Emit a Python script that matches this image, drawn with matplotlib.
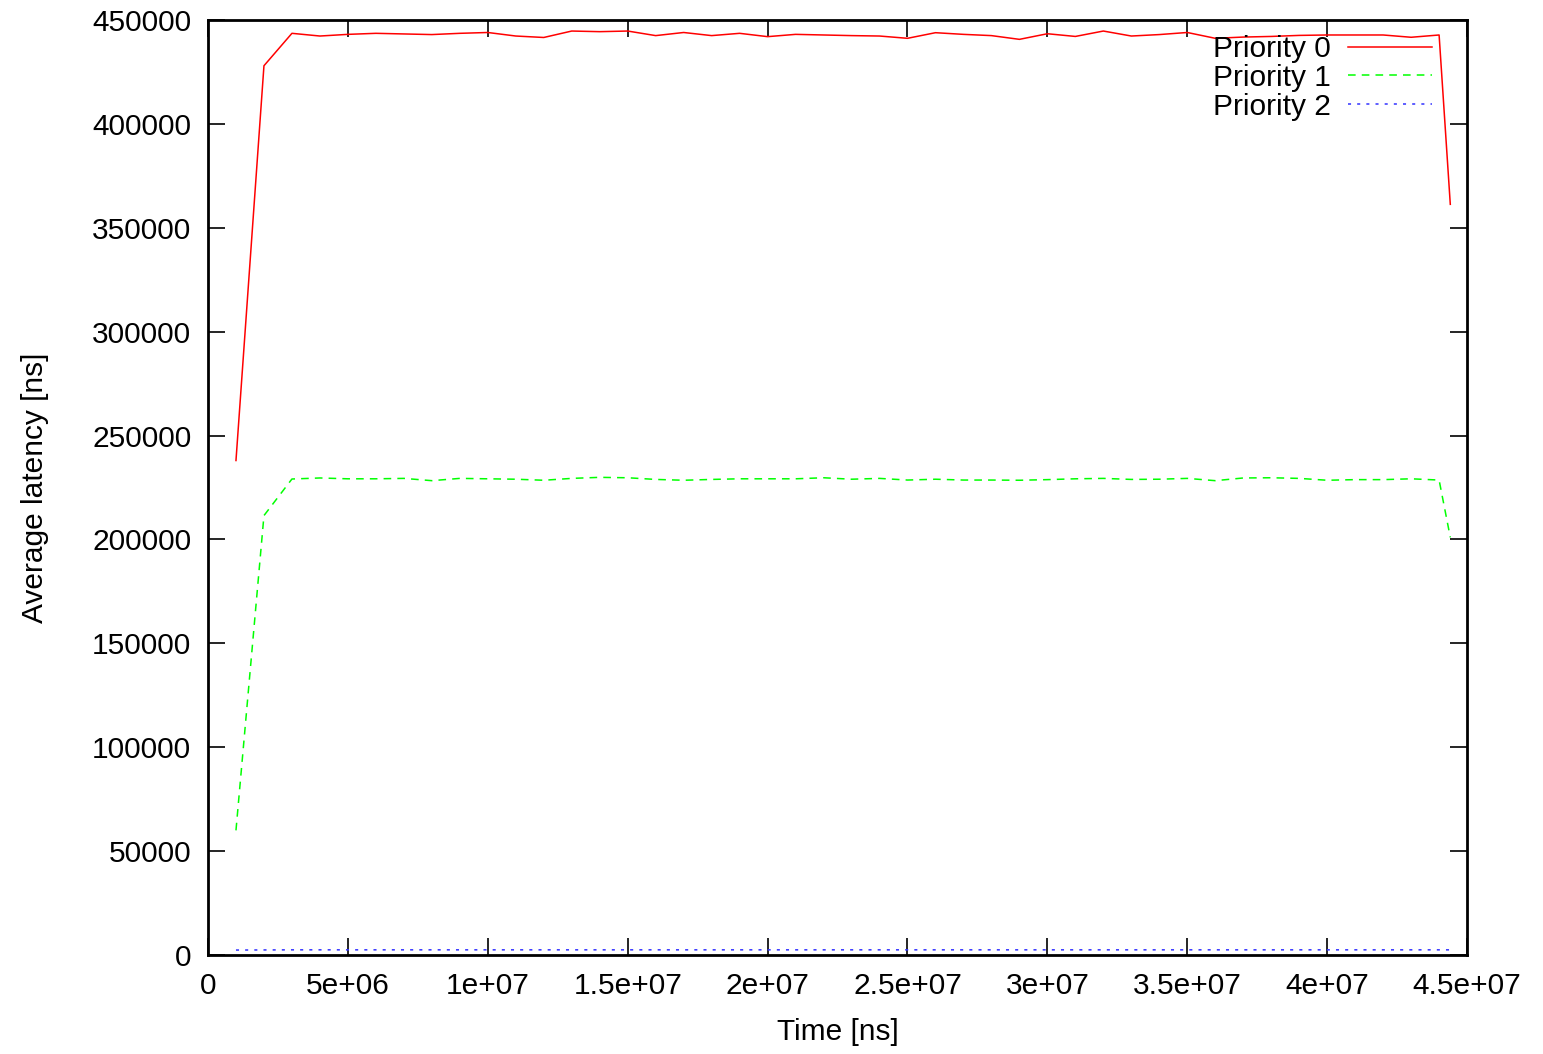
import numpy as np
import matplotlib
matplotlib.use("Agg")
import matplotlib.pyplot as plt

plt.rcParams['font.family'] = ['Liberation Sans', 'DejaVu Sans']

# sample times in units of 1e6 ns
time_m = [1, 2, 3, 4, 5, 6, 7, 8, 9, 10, 11, 12, 13, 14, 15, 16, 17, 18, 19, 20,
          21, 22, 23, 24, 25, 26, 27, 28, 29, 30, 31, 32, 33, 34, 35, 36, 37, 38,
          39, 40, 41, 42, 43, 44, 44.4]

prio0 = [238000, 428000, 443600, 442300, 443100, 443600, 443300, 443000, 443600,
         444000, 442300, 441600, 444700, 444400, 444700, 442500, 444000, 442500,
         443600, 442000, 443100, 442800, 442500, 442300, 441200, 443900, 443100,
         442500, 440700, 443400, 442100, 444700, 442300, 443000, 444000, 441200,
         441800, 442100, 442600, 442800, 442800, 442800, 441700, 442800, 361300]

prio1 = [60000, 211500, 229100, 229600, 229200, 229200, 229400, 228300, 229400,
         229200, 229000, 228500, 229400, 229900, 229700, 228900, 228500, 228900,
         229200, 229200, 229200, 229700, 229000, 229400, 228600, 229000, 228600,
         228600, 228500, 228800, 229200, 229400, 228900, 229000, 229400, 228300,
         229600, 229700, 229400, 228500, 228800, 228800, 229200, 228600, 201000]

prio2 = [2400, 2450, 2500, 2500, 2500, 2500, 2500, 2500, 2500, 2500, 2500, 2500,
         2500, 2500, 2500, 2500, 2500, 2500, 2500, 2500, 2500, 2500, 2500, 2500,
         2500, 2500, 2500, 2500, 2500, 2500, 2500, 2500, 2500, 2500, 2500, 2500,
         2500, 2500, 2500, 2500, 2500, 2500, 2500, 2500, 2500]

xticks = [0, 5e6, 1e7, 1.5e7, 2e7, 2.5e7, 3e7, 3.5e7, 4e7, 4.5e7]
xtick_labels = ['0', '5e+06', '1e+07', '1.5e+07', '2e+07', '2.5e+07',
                '3e+07', '3.5e+07', '4e+07', '4.5e+07']
yticks = list(range(0, 450001, 50000))

t = np.array(time_m) * 1e6

fig = plt.figure(figsize=(15.43, 10.54), dpi=100)
ax = fig.add_axes([0.1348, 0.0939, 0.8160, 0.8871])

ax.plot(t, prio0, color='#ff0000', lw=1.1, label='Priority 0')
ax.plot(t, prio1, color='#00ff00', lw=1.1, dashes=(5, 4), label='Priority 1')
ax.plot(t, prio2, color='#3333ff', lw=1.1, dashes=(2, 4), label='Priority 2')

ax.set_xlim(0, 4.5e7)
ax.set_ylim(0, 450000)
ax.set_xticks(xticks)
ax.set_xticklabels(xtick_labels)
ax.set_yticks(yticks)
ax.set_yticklabels([str(v) for v in yticks])
ax.tick_params(direction='in', length=12, width=1.2, labelsize=21.5,
               top=True, right=True)
ax.tick_params(axis='x', pad=12)
ax.tick_params(axis='y', pad=12)
for s in ax.spines.values():
    s.set_linewidth(2)

ax.set_xlabel('Time [ns]', fontsize=21.5, labelpad=13)
ax.set_ylabel('Average latency [ns]', fontsize=21.5, labelpad=31)

ax.legend(loc='upper right', frameon=False, markerfirst=False, fontsize=21.5,
          handlelength=2.8, handletextpad=0.6, labelspacing=0.03,
          borderaxespad=0.1, bbox_to_anchor=(0.984, 1.0))

fig.savefig('out.png', dpi=100)
